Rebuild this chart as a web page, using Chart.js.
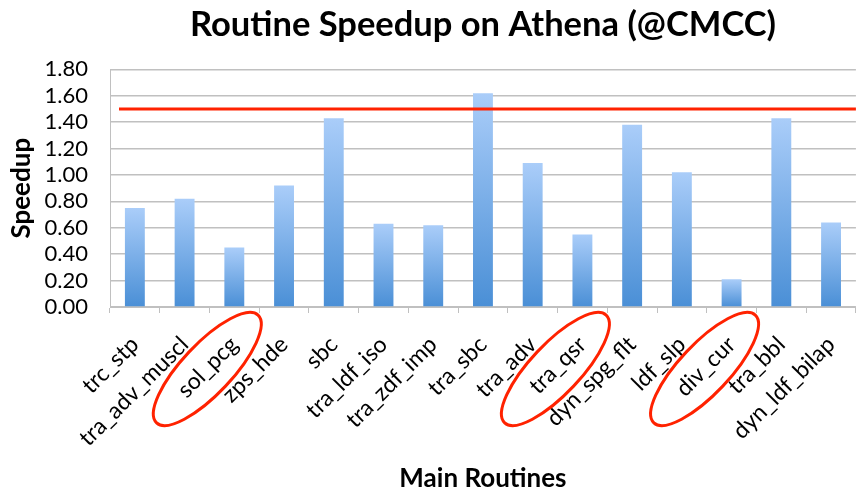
<!DOCTYPE html>
<html>
<head>
<meta charset="utf-8">
<script src="https://cdn.jsdelivr.net/npm/chart.js@4"></script>
<style>
  html, body { margin: 0; padding: 0; background: #fff; overflow: hidden; }
  #wrap { width: 869px; height: 494px; }
</style>
</head>
<body>
<div id="wrap"><canvas id="c"></canvas></div>
<script>
const categories = ["trc_stp","tra_adv_muscl","sol_pcg","zps_hde","sbc","tra_ldf_iso","tra_zdf_imp","tra_sbc","tra_adv","tra_qsr","dyn_spg_flt","ldf_slp","div_cur","tra_bbl","dyn_ldf_bilap"];
const speedup = [0.75, 0.82, 0.45, 0.92, 1.43, 0.63, 0.62, 1.62, 1.09, 0.55, 1.38, 1.02, 0.21, 1.43, 0.64];
const targetLine = 1.5;
const highlighted = ["sol_pcg", "tra_qsr", "div_cur"];
const yTicks = [0, 0.2, 0.4, 0.6, 0.8, 1.0, 1.2, 1.4, 1.6, 1.8];

const FONT = "Lato, 'Open Sans', sans-serif";

const overlay = {
  id: 'overlay',
  afterDatasetsDraw(chart) {
    const ctx = chart.ctx, y = chart.scales.y, a = chart.chartArea;
    const yl = y.getPixelForValue(targetLine);
    ctx.save();
    ctx.strokeStyle = '#ff2200';
    ctx.lineWidth = 3;
    ctx.beginPath();
    ctx.moveTo(a.left + 9, yl);
    ctx.lineTo(a.right, yl);
    ctx.stroke();
    ctx.restore();
  },
  afterDraw(chart) {
    const ctx = chart.ctx, x = chart.scales.x, a = chart.chartArea;
    ctx.save();
    ctx.strokeStyle = '#ff2200';
    ctx.lineWidth = 3;
    highlighted.forEach(name => {
      const i = categories.indexOf(name);
      const cx = x.getPixelForValue(i) - 27;
      const cy = a.bottom + 62;
      ctx.beginPath();
      ctx.ellipse(cx, cy, 74, 25, -Math.PI / 4 - 0.03, 0, Math.PI * 2);
      ctx.stroke();
    });
    ctx.restore();
  }
};

new Chart(document.getElementById('c'), {
  type: 'bar',
  data: {
    labels: categories,
    datasets: [{
      data: speedup,
      backgroundColor(ctx) {
        const chart = ctx.chart, y = chart.scales.y;
        if (!y || ctx.parsed === undefined) return '#79acea';
        const top = y.getPixelForValue(ctx.parsed.y);
        const bot = y.getPixelForValue(0);
        if (!isFinite(top) || !isFinite(bot) || top === bot) return '#79acea';
        const g = chart.ctx.createLinearGradient(0, top, 0, bot);
        g.addColorStop(0, '#aacdf9');
        g.addColorStop(1, '#4a8fd6');
        return g;
      },
      borderWidth: 0,
      barPercentage: 0.4,
      categoryPercentage: 1.0
    }]
  },
  options: {
    responsive: true,
    maintainAspectRatio: false,
    animation: false,
    layout: { padding: { left: 6, right: 0, top: 0, bottom: 0 } },
    plugins: {
      legend: { display: false },
      tooltip: { enabled: false },
      title: {
        display: true,
        text: 'Routine Speedup on Athena (@CMCC)',
        fullSize: false,
        color: '#000',
        font: { family: FONT, size: 34.5, weight: 'bold' },
        padding: { top: 4, bottom: 24 }
      }
    },
    scales: {
      x: {
        afterFit(axis) { axis.height = 187; },
        grid: { display: true, drawOnChartArea: false, drawTicks: true, tickLength: 6, color: '#c0c0c0', offset: true },
        border: { display: true, color: '#c0c0c0', width: 1 },
        ticks: { color: '#000', font: { family: FONT, size: 23 }, minRotation: 45, maxRotation: 45, autoSkip: false, padding: 18 },
        title: { display: true, text: 'Main Routines', color: '#000', font: { family: FONT, size: 26, weight: 'bold' }, padding: { top: 4, bottom: 0 } }
      },
      y: {
        min: 0, max: 1.8,
        afterBuildTicks(axis) { axis.ticks = yTicks.map(v => ({ value: v })); },
        afterFit(axis) { axis.width = 104; },
        grid: { color: '#c0c0c0', drawTicks: false, lineWidth: 1.5 },
        border: { display: true, color: '#c0c0c0', width: 1 },
        ticks: { color: '#000', font: { family: FONT, size: 22 }, padding: 22, autoSkip: false, callback: v => Number(v).toFixed(2) },
        title: { display: true, text: 'Speedup', color: '#000', font: { family: FONT, size: 26, weight: 'bold' }, padding: { top: 0, bottom: 4 } }
      }
    }
  },
  plugins: [overlay]
});
</script>
</body>
</html>
